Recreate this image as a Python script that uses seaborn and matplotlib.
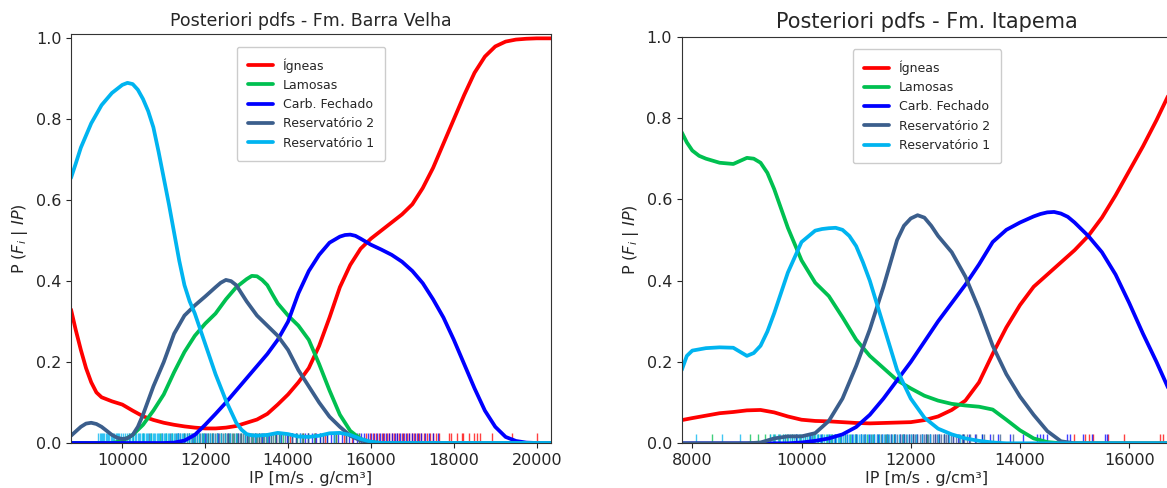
import numpy as np
import pandas as pd
import matplotlib
matplotlib.use("Agg")
import matplotlib.pyplot as plt
import seaborn as sns

sns.set_style("ticks")
plt.rcParams["font.family"] = ["DejaVu Sans"]

facies = ["Ígneas", "Lamosas", "Carb. Fechado", "Reservatório 2", "Reservatório 1"]
colors = ["#ff0000", "#00c050", "#0000ff", "#3b5e8c", "#00b4f0"]

# ================= Fm. Barra Velha =================
bv_igneas_ip = [8762, 8875, 9000, 9125, 9250, 9375, 9500, 9750, 10000, 10250, 10500, 10750,
                11000, 11250, 11500, 11750, 12000, 12250, 12500, 12750, 13000, 13250, 13500,
                13750, 14000, 14250, 14500, 14750, 15000, 15250, 15500, 15750, 16000, 16250,
                16500, 16750, 17000, 17250, 17500, 17750, 18000, 18250, 18500, 18750, 19000,
                19250, 19500, 19750, 20000, 20345]
bv_igneas_p = [0.33, 0.28, 0.23, 0.185, 0.15, 0.125, 0.113, 0.103, 0.095, 0.08, 0.066, 0.057,
               0.05, 0.045, 0.041, 0.038, 0.036, 0.036, 0.038, 0.042, 0.05, 0.058, 0.072,
               0.095, 0.12, 0.15, 0.185, 0.24, 0.31, 0.385, 0.44, 0.48, 0.505, 0.525,
               0.545, 0.565, 0.59, 0.63, 0.68, 0.74, 0.80, 0.86, 0.915, 0.955, 0.98,
               0.992, 0.997, 0.999, 1.0, 1.0]

bv_lamosas_ip = [8762, 9750, 10000, 10250, 10500, 10750, 11000, 11250, 11500, 11750, 12000,
                 12250, 12500, 12750, 13000, 13125, 13250, 13375, 13500, 13625, 13750, 14000,
                 14250, 14500, 14750, 15000, 15250, 15500, 15750, 16000, 16250, 20345]
bv_lamosas_p = [0, 0, 0.005, 0.02, 0.045, 0.08, 0.12, 0.175, 0.225, 0.265, 0.295,
                0.32, 0.355, 0.385, 0.405, 0.413, 0.412, 0.403, 0.39, 0.367, 0.345, 0.315,
                0.29, 0.255, 0.195, 0.13, 0.07, 0.03, 0.01, 0.002, 0, 0]

bv_carb_ip = [8762, 11000, 11250, 11500, 11750, 12000, 12250, 12500, 12750, 13000, 13250,
              13500, 13750, 14000, 14125, 14250, 14500, 14750, 15000, 15250, 15375, 15500,
              15625, 15750, 16000, 16250, 16500, 16750, 17000, 17250, 17500, 17750, 18000,
              18250, 18500, 18750, 19000, 19250, 19500, 19750, 20000, 20345]
bv_carb_p = [0, 0, 0.001, 0.006, 0.02, 0.045, 0.072, 0.1, 0.13, 0.16, 0.19,
             0.22, 0.255, 0.30, 0.335, 0.37, 0.425, 0.465, 0.495, 0.51, 0.514, 0.515,
             0.512, 0.505, 0.49, 0.478, 0.465, 0.448, 0.425, 0.395, 0.355, 0.31, 0.255,
             0.195, 0.135, 0.08, 0.04, 0.015, 0.005, 0.001, 0, 0]

bv_res2_ip = [8762, 9000, 9125, 9250, 9375, 9500, 9625, 9750, 9875, 10000, 10125, 10250,
              10375, 10500, 10625, 10750, 11000, 11250, 11500, 11750, 12000, 12250, 12375,
              12500, 12625, 12750, 12875, 13000, 13250, 13500, 13750, 14000, 14250, 14500,
              14750, 15000, 15250, 15500, 15750, 16000, 16250, 20345]
bv_res2_p = [0.018, 0.04, 0.048, 0.05, 0.047, 0.04, 0.03, 0.02, 0.013, 0.01, 0.012, 0.02,
             0.04, 0.07, 0.105, 0.14, 0.20, 0.27, 0.315, 0.34, 0.362, 0.385, 0.396,
             0.403, 0.40, 0.39, 0.37, 0.35, 0.315, 0.29, 0.265, 0.23, 0.18, 0.14,
             0.10, 0.065, 0.04, 0.018, 0.006, 0.001, 0, 0]

bv_res1_ip = [8762, 8875, 9000, 9250, 9500, 9750, 10000, 10125, 10250, 10375, 10500, 10625,
              10750, 10875, 11000, 11125, 11250, 11375, 11500, 11625, 11750, 12000, 12250,
              12500, 12750, 12875, 13000, 13125, 13250, 13500, 13750, 14000, 14250, 14500,
              14750, 15000, 15250, 15500, 15750, 16000, 16250, 20345]
bv_res1_p = [0.655, 0.69, 0.73, 0.79, 0.835, 0.865, 0.885, 0.89, 0.887, 0.873, 0.85, 0.82,
             0.78, 0.72, 0.655, 0.59, 0.52, 0.45, 0.39, 0.35, 0.32, 0.245, 0.17,
             0.105, 0.05, 0.033, 0.022, 0.019, 0.018, 0.02, 0.025, 0.022, 0.016, 0.015,
             0.018, 0.024, 0.025, 0.02, 0.01, 0.003, 0, 0]

bv_rug_igneas = [13300, 13700, 14050, 14350, 14650, 14900, 15150, 15350, 15550, 15720, 15880,
                 15980, 16060, 16130, 16200, 16260, 16320, 16380, 16440, 16500, 16560, 16620,
                 16680, 16740, 16800, 16860, 16920, 16980, 17040, 17100, 17160, 17220, 17290,
                 17360, 17430, 17500, 17570, 17640, 17890, 17924, 18069, 18190, 18228, 18373,
                 18487, 18551, 18631, 18913, 19395, 19998]
bv_rug_lamosas = [10250, 10500, 10700, 10900, 11050, 11200, 11350, 11480, 11600, 11720, 11840,
                  11950, 12060, 12170, 12280, 12380, 12480, 12580, 12680, 12770, 12860, 12950,
                  13040, 13130, 13220, 13310, 13400, 13490, 13580, 13680, 13780, 13880, 13990,
                  14100, 14220, 14350, 14480, 14620, 14780, 14950, 15150, 15400, 15700]
bv_rug_carb = [11350, 11700, 12000, 12300, 12550, 12800, 13000, 13200, 13380, 13550, 13700,
               13840, 13970, 14090, 14200, 14300, 14400, 14490, 14580, 14670, 14760, 14850,
               14940, 15030, 15120, 15210, 15300, 15390, 15480, 15570, 15660, 15750, 15840,
               15930, 16010, 16080, 16150, 16220, 16290, 16360, 16430, 16500, 16570, 16640,
               16710, 16780, 16850, 16920, 16990, 17060, 17140, 17220, 17310, 17400, 17500,
               17620]
bv_rug_res2 = [10150, 10650, 10950, 11150, 11300, 11400, 11480, 11550, 11620, 11690, 11750,
               11810, 11865, 11920, 11970, 12020, 12065, 12110, 12155, 12200, 12245, 12290,
               12335, 12380, 12425, 12470, 12515, 12560, 12605, 12650, 12695, 12740, 12785,
               12830, 12875, 12920, 12965, 13010, 13055, 13100, 13150, 13200, 13250, 13300,
               13355, 13410, 13465, 13520, 13580, 13640, 13700, 13770, 13840, 13920, 14000,
               14100, 14200, 14330, 14480, 14650, 14850, 15100, 15400]
bv_rug_res1 = [9420, 9455, 9480, 9510, 9545, 9570, 9600, 9630, 9665, 9690, 9720, 9755, 9785,
               9810, 9845, 9870, 9905, 9930, 9960, 10010, 10060, 10110, 10150, 10185, 10230,
               10265, 10300, 10335, 10370, 10400, 10435, 10470, 10500, 10530, 10565, 10600,
               10630, 10665, 10700, 10730, 10760, 10795, 10830, 10860, 10895, 10930, 10960,
               10995, 11030, 11065, 11100, 11135, 11170, 11200, 11240, 11275, 11310, 11350,
               11390, 11430, 11470, 11510, 11550, 11600, 11650, 11700, 11750, 11800, 11860,
               11920, 11980, 12050, 12120, 12200, 12290, 12380, 12480, 12600, 12750, 12950,
               13200, 13500, 13800, 14300, 15100]

# ================= Fm. Itapema =================
it_igneas_ip = [7806, 8000, 8250, 8500, 8750, 9000, 9250, 9500, 9750, 10000, 10250, 10500,
                10750, 11000, 11250, 11500, 11750, 12000, 12250, 12500, 12750, 13000, 13250,
                13500, 13750, 14000, 14250, 14500, 14750, 15000, 15250, 15500, 15750, 16000,
                16250, 16500, 16750, 16783]
it_igneas_p = [0.057, 0.062, 0.068, 0.074, 0.077, 0.081, 0.082, 0.076, 0.066, 0.058, 0.055,
               0.054, 0.052, 0.05, 0.049, 0.05, 0.051, 0.052, 0.057, 0.066, 0.082, 0.105,
               0.15, 0.22, 0.285, 0.34, 0.385, 0.415, 0.445, 0.475, 0.51, 0.555, 0.61,
               0.67, 0.73, 0.795, 0.865, 0.875]

it_lamosas_ip = [7806, 7900, 8000, 8125, 8250, 8500, 8750, 9000, 9125, 9250, 9375, 9500,
                 9750, 10000, 10250, 10500, 10750, 11000, 11250, 11500, 11750, 12000, 12250,
                 12500, 12750, 13000, 13250, 13500, 13750, 14000, 14250, 14500, 14750, 16783]
it_lamosas_p = [0.765, 0.74, 0.72, 0.707, 0.70, 0.69, 0.687, 0.702, 0.70, 0.69, 0.665, 0.625,
                0.53, 0.45, 0.395, 0.362, 0.31, 0.255, 0.215, 0.185, 0.155, 0.135, 0.117,
                0.105, 0.097, 0.093, 0.09, 0.083, 0.058, 0.032, 0.012, 0.003, 0, 0]

it_carb_ip = [7806, 9750, 10000, 10250, 10500, 10750, 11000, 11250, 11500, 11750, 12000,
              12250, 12500, 12750, 13000, 13250, 13500, 13750, 14000, 14250, 14375, 14500,
              14625, 14750, 14875, 15000, 15250, 15500, 15750, 16000, 16250, 16500, 16750,
              16783]
it_carb_p = [0, 0, 0.002, 0.006, 0.012, 0.022, 0.04, 0.07, 0.11, 0.155, 0.2,
             0.25, 0.30, 0.345, 0.39, 0.44, 0.495, 0.525, 0.543, 0.558, 0.564, 0.568,
             0.569, 0.565, 0.557, 0.543, 0.51, 0.47, 0.415, 0.345, 0.27, 0.2, 0.125,
             0.118]

it_res2_ip = [7806, 9000, 9250, 9500, 9750, 10000, 10250, 10500, 10750, 11000, 11250, 11500,
              11750, 11875, 12000, 12125, 12250, 12375, 12500, 12750, 13000, 13250, 13500,
              13750, 14000, 14250, 14500, 14750, 15000, 16783]
it_res2_p = [0, 0, 0.002, 0.012, 0.017, 0.017, 0.025, 0.055, 0.11, 0.19, 0.28, 0.385,
             0.50, 0.535, 0.553, 0.561, 0.555, 0.535, 0.51, 0.47, 0.41, 0.33, 0.24,
             0.17, 0.115, 0.07, 0.03, 0.005, 0, 0]

it_res1_ip = [7806, 7900, 8000, 8250, 8500, 8750, 9000, 9125, 9250, 9375, 9500, 9750, 10000,
              10250, 10375, 10500, 10625, 10750, 10875, 11000, 11125, 11250, 11500, 11750,
              12000, 12250, 12500, 12750, 13000, 13250, 13500, 13750, 16783]
it_res1_p = [0.18, 0.215, 0.228, 0.234, 0.236, 0.235, 0.215, 0.222, 0.24, 0.275, 0.32, 0.42,
             0.495, 0.523, 0.527, 0.529, 0.53, 0.525, 0.51, 0.485, 0.445, 0.40, 0.29, 0.18,
             0.11, 0.063, 0.036, 0.022, 0.012, 0.006, 0.002, 0, 0]

it_rug_igneas = [14989, 15191, 15269, 15342, 15617, 15910, 16564, 16624]
it_rug_lamosas = [8355, 9057, 9203, 9331, 9420, 9500, 9580, 9660, 9740, 9820, 9900, 9980,
                  10060, 10140, 10220, 10300, 10380, 10460, 10540, 10620, 10700, 10790, 10880,
                  10980, 11080, 11190, 11300, 11420, 11550, 11700, 11860, 12050, 12300, 12600,
                  12950, 13300]
it_rug_carb = [9900, 10150, 10350, 10500, 10620, 10730, 10830, 10920, 11000, 11080, 11160,
               11240, 11320, 11400, 11480, 11560, 11640, 11720, 11800, 11880, 11960, 12040,
               12120, 12200, 12280, 12360, 12440, 12520, 12600, 12690, 12780, 12870, 12960,
               13060, 13170, 13300, 13450, 13600, 13817, 14061, 14306, 14367, 14427, 14489,
               14855, 14916, 15160, 15313, 15557, 15588]
it_rug_res2 = [9700, 10200, 10550, 10800, 11000, 11150, 11280, 11380, 11460, 11530, 11590,
               11645, 11700, 11750, 11795, 11840, 11880, 11920, 11960, 12000, 12040, 12080,
               12120, 12160, 12200, 12240, 12280, 12320, 12360, 12400, 12440, 12480, 12520,
               12560, 12600, 12645, 12690, 12735, 12780, 12830, 12880, 12930, 12980, 13030,
               13085, 13200, 13350, 13500, 13634, 13878]
it_rug_res1 = [8068, 8544, 8873, 9420, 9470, 9520, 9565, 9610, 9655, 9700, 9745, 9790, 9830,
               9870, 9910, 9950, 9990, 10030, 10065, 10100, 10135, 10170, 10205, 10240, 10275,
               10310, 10345, 10380, 10415, 10450, 10485, 10520, 10555, 10590, 10625, 10660,
               10695, 10730, 10765, 10800, 10835, 10870, 10905, 10940, 10975, 11010, 11050,
               11090, 11130, 11170, 11210, 11250, 11290, 11330, 11375, 11420, 11465, 11510,
               11560, 11610, 11665, 11720, 11785, 11850, 11925, 12000, 12100, 12200, 12350,
               12500, 12700, 12900]

panels = [
    dict(title="Posteriori pdfs - Fm. Barra Velha", title_size=12.5,
         curves=[(bv_igneas_ip, bv_igneas_p), (bv_lamosas_ip, bv_lamosas_p),
                 (bv_carb_ip, bv_carb_p), (bv_res2_ip, bv_res2_p), (bv_res1_ip, bv_res1_p)],
         rugs=[bv_rug_igneas, bv_rug_lamosas, bv_rug_carb, bv_rug_res2, bv_rug_res1],
         xlim=(8762, 20345), ylim=(0, 1.01), xticks=[10000, 12000, 14000, 16000, 18000, 20000],
         pos=[71 / 1167, 45 / 488, 480 / 1167, 408.7 / 488]),
    dict(title="Posteriori pdfs - Fm. Itapema", title_size=15,
         curves=[(it_igneas_ip, it_igneas_p), (it_lamosas_ip, it_lamosas_p),
                 (it_carb_ip, it_carb_p), (it_res2_ip, it_res2_p), (it_res1_ip, it_res1_p)],
         rugs=[it_rug_igneas, it_rug_lamosas, it_rug_carb, it_rug_res2, it_rug_res1],
         xlim=(7806, 16783), ylim=(0, 1.0), xticks=[8000, 10000, 12000, 14000, 16000],
         pos=[681.7 / 1167, 44.7 / 488, 490.3 / 1167, 406.6 / 488]),
]

fig = plt.figure(figsize=(11.67, 4.88), dpi=100)
palette = dict(zip(facies, colors))

for p in panels:
    ax = fig.add_axes(p["pos"])
    rows = []
    for name, (xs, ys) in zip(facies, p["curves"]):
        for x, y in zip(xs, ys):
            rows.append({"IP": x, "P": y, "Fácies": name})
    df = pd.DataFrame(rows)
    for name, vals in zip(facies, p["rugs"]):
        sns.rugplot(x=vals, ax=ax, color=palette[name], height=0.024, alpha=0.75, lw=1.4)
    sns.lineplot(data=df, x="IP", y="P", hue="Fácies", hue_order=facies, palette=palette,
                 lw=2.7, ax=ax, legend=True, solid_joinstyle="round", solid_capstyle="round")
    handles, labels = ax.get_legend_handles_labels()
    ax.legend(handles=handles, labels=labels, loc="upper center", fontsize=9,
              borderpad=0.9, borderaxespad=1.0, framealpha=1.0)
    ax.set_xlim(*p["xlim"])
    ax.set_ylim(*p["ylim"])
    ax.set_xticks(p["xticks"])
    ax.set_yticks([0.0, 0.2, 0.4, 0.6, 0.8, 1.0])
    ax.tick_params(labelsize=11.5, length=3.5, width=0.8)
    ax.set_title(p["title"], fontsize=p["title_size"])
    ax.set_xlabel("IP [m/s . g/cm³]", fontsize=11.5, labelpad=2)
    ax.set_ylabel(r"P ($F_i$ | $IP$)", fontsize=11.5)
    for s in ax.spines.values():
        s.set_linewidth(0.8)
        s.set_color("#333333")

fig.savefig("out.png", dpi=100)
